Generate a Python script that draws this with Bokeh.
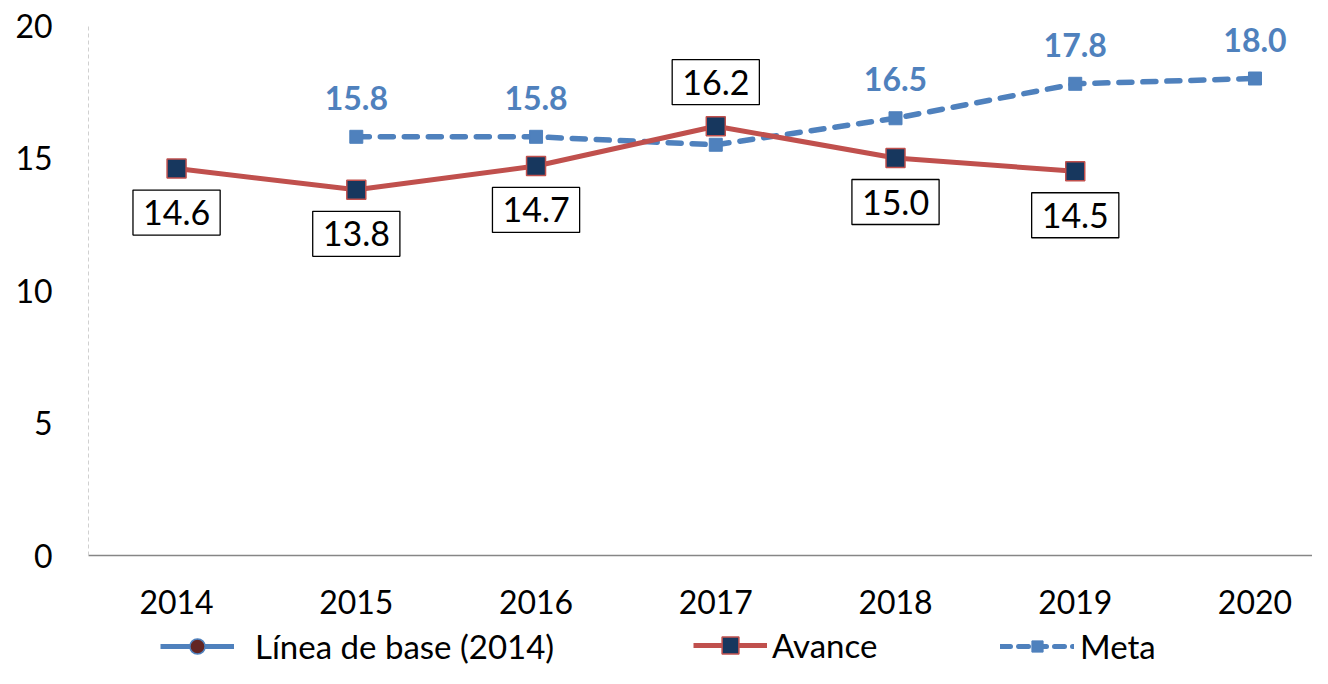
from bokeh.plotting import figure
from bokeh.models import Range1d, FixedTicker, Legend, LegendItem, Label
from bokeh.layouts import column
from bokeh.embed import file_html
from bokeh.resources import INLINE

years = [2014, 2015, 2016, 2017, 2018, 2019, 2020]
avance_years = [2014, 2015, 2016, 2017, 2018, 2019]
avance = [14.6, 13.8, 14.7, 16.2, 15.0, 14.5]
meta_years = [2015, 2016, 2017, 2018, 2019, 2020]
meta = [15.8, 15.8, 15.5, 16.5, 17.8, 18.0]
meta_label_years = [2015, 2016, 2018, 2019, 2020]
base_years = [2014]
base = [14.6]
y_ticks = [0, 5, 10, 15, 20]
legend_labels = ["Línea de base (2014)", "Avance", "Meta"]

FONT = "Lato"
RED = "#C0504D"
NAVY = "#17375E"
BLUE = "#4F81BD"
BASE_FILL = "#632523"

W = 1312
p = figure(width=W, height=622, output_backend="svg", toolbar_location=None,
           x_range=Range1d(2013.51, 2020.32), y_range=Range1d(0, 20),
           min_border_left=88, min_border_right=0, min_border_top=25, min_border_bottom=67)
p.outline_line_color = None
p.xgrid.visible = False
p.ygrid.visible = False

# axes
p.xaxis.ticker = FixedTicker(ticks=years)
p.yaxis.ticker = FixedTicker(ticks=y_ticks)
for ax in (p.xaxis[0], p.yaxis[0]):
    ax.major_tick_line_color = None
    ax.minor_tick_line_color = None
    ax.major_label_text_font = FONT
    ax.major_label_text_font_size = "32px"
    ax.major_label_text_color = "black"
p.xaxis.axis_line_color = "#868686"
p.xaxis.axis_line_width = 1.5
p.xaxis.major_label_standoff = 28
p.yaxis.axis_line_color = "#D0D0D0"
p.yaxis.axis_line_dash = "4 3"
p.yaxis.major_label_standoff = 30

# baseline series (hidden below avance marker)
p.scatter(base_years, base, marker="circle", size=15, fill_color=BASE_FILL,
          line_color=BLUE, line_width=1.5)

# meta
p.line(meta_years, meta, line_color=BLUE, line_width=5.5, line_dash="13 11",
       line_cap="round")
p.scatter(meta_years, meta, marker="square", size=13, fill_color=BLUE, line_color=BLUE)

# avance
p.line(avance_years, avance, line_color=RED, line_width=5)
p.scatter(avance_years, avance, marker="square", size=19, fill_color=NAVY,
          line_color=RED, line_width=1.5)

# avance labels with boxes
meta_map = dict(zip(meta_years, meta))
for x, v in zip(avance_years, avance):
    above = x in meta_map and v > meta_map[x]
    p.add_layout(Label(x=x, y=v, text=f"{v:.1f}", text_align="center",
                       text_baseline="middle", y_offset=(44 if above else -44),
                       text_font=FONT, text_font_size="34px", text_color="black",
                       background_fill_color="white", border_line_color="black",
                       border_line_width=1.3, padding=(10, 10)))

# meta labels
for x, v in zip(meta_years, meta):
    if x in meta_label_years:
        p.add_layout(Label(x=x, y=v, text=f"{v:.1f}", text_align="center",
                           text_baseline="middle", y_offset=39,
                           text_font=FONT, text_font_size="32px", text_font_style="bold",
                           text_color=BLUE))

# legend strip (its renderers fall outside its 0..1 ranges, so only the legend shows)
lg = figure(width=W, height=46, output_backend="svg", toolbar_location=None,
            x_range=Range1d(0, 1), y_range=Range1d(0, 1),
            x_axis_type=None, y_axis_type=None,
            min_border_left=0, min_border_right=0, min_border_top=0, min_border_bottom=0)
lg.outline_line_color = None
lg.xgrid.visible = False
lg.ygrid.visible = False

bl = lg.line(base_years, base, line_color=BLUE, line_width=5)
bs = lg.scatter(base_years, base, marker="circle", size=16, fill_color=BASE_FILL,
                line_color=BLUE, line_width=1.5)
al = lg.line(avance_years, avance, line_color=RED, line_width=5)
asq = lg.scatter(avance_years, avance, marker="square", size=19, fill_color=NAVY,
                 line_color=RED, line_width=1.5)
ml = lg.line(meta_years, meta, line_color=BLUE, line_width=5, line_dash="10 8",
             line_cap="round")
ms = lg.scatter(meta_years, meta, marker="square", size=12, fill_color=BLUE,
                line_color=BLUE)

specs = [
    (legend_labels[0], [bl, bs], (72, 2), 21, 38),
    (legend_labels[1], [al, asq], (605, 2), 5, 42),
    (legend_labels[2], [ml, ms], (912, 2), 6, 28),
]
for lab, rends, loc, standoff, gh in specs:
    leg = Legend(items=[LegendItem(label=lab, renderers=rends)], location=loc,
                 border_line_color=None, background_fill_alpha=0,
                 label_text_font=FONT, label_text_font_size="33px",
                 label_text_color="black",
                 glyph_width=74, glyph_height=gh, padding=0, margin=0,
                 label_standoff=standoff)
    lg.add_layout(leg, "center")

open("out.html", "w").write(file_html(column(p, lg, spacing=0), INLINE))
